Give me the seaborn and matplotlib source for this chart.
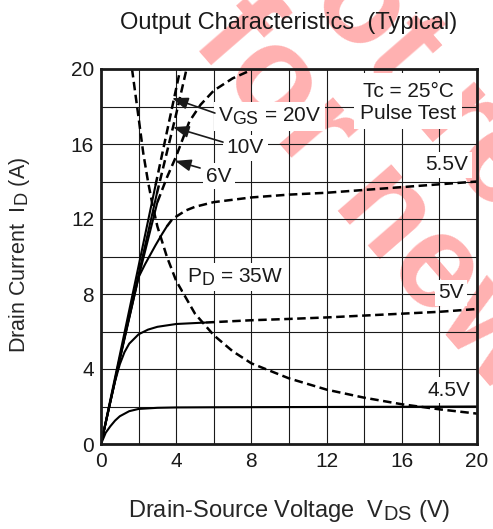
import numpy as np
import pandas as pd
import matplotlib
matplotlib.use("Agg")
import matplotlib.pyplot as plt
import matplotlib._mathtext as mathtext_internals
import seaborn as sns

# ---- data -------------------------------------------------------------
# Drain current vs. drain-source voltage for each gate voltage
vgs_labels = ["4.5V", "5V", "5.5V", "6V", "10V", "20V"]

vds_45 = [0, 0.25, 0.5, 0.75, 1, 1.5, 2, 3, 4, 6, 10, 14, 20]
id_45 = [0, 0.6, 0.95, 1.25, 1.48, 1.75, 1.87, 1.93, 1.95, 1.96, 1.97, 1.98, 2.0]

vds_50 = [0, 0.5, 0.75, 1, 1.25, 1.5, 2, 2.5, 3, 4, 5, 5.6, 6, 8, 10, 12, 14, 16, 18, 20]
id_50 = [0, 2.25, 3.35, 4.25, 4.9, 5.35, 5.85, 6.1, 6.25, 6.4, 6.45, 6.48, 6.5, 6.6,
         6.67, 6.75, 6.85, 6.95, 7.05, 7.2]

vds_55 = [0, 1, 2, 2.35, 2.9, 3.25, 3.5, 3.8, 4.5, 5, 6, 8, 10, 12, 14, 16, 18, 20]
id_55 = [0, 4.6, 8.9, 9.6, 10.6, 11.2, 11.6, 12.0, 12.45, 12.65, 12.9, 13.15, 13.3,
         13.4, 13.55, 13.7, 13.85, 14.0]

vds_60 = [0, 1, 2, 3, 3.5, 4, 4.7, 5.3, 6, 7, 8]
id_60 = [0, 4.5, 8.9, 12.9, 14.2, 15.35, 17.2, 18.1, 18.85, 19.5, 19.95]

vds_10 = [0, 1, 2, 2.97, 4, 4.55]
id_10 = [0, 4.55, 9.05, 13.35, 17.6, 20.0]

vds_20 = [0, 1, 2, 2.9, 4.22]
id_20 = [0, 4.75, 9.5, 13.8, 20.0]

# last measured (solid) voltage of each curve; beyond it the curve is dashed
solid_until = [20, 5.6, 3.5, 3.0, 2.97, 2.9]

# 35 W power-dissipation limit
pd_vds = [1.65, 2, 2.25, 2.5, 2.75, 3, 3.5, 4, 5, 6, 7, 8, 10, 12, 14, 16, 18, 20]
pd_id = [20, 17.4, 15.5, 14.0, 12.7, 11.6, 10.0, 8.7, 6.95, 5.8, 4.95, 4.3, 3.5, 2.9,
         2.47, 2.12, 1.85, 1.62]

x_ticks = [0, 4, 8, 12, 16, 20]
y_ticks = [0, 4, 8, 12, 16, 20]

# ---- style ------------------------------------------------------------
sns.set_theme(style="white")
plt.rcParams["font.family"] = ["Liberation Sans", "DejaVu Sans"]
plt.rcParams["mathtext.fontset"] = "custom"
plt.rcParams["mathtext.rm"] = "Liberation Sans"
plt.rcParams["mathtext.it"] = "Liberation Sans:italic"
plt.rcParams["mathtext.bf"] = "Liberation Sans:bold"
plt.rcParams["text.color"] = "#1a1a1a"
# larger subscripts, as in typical datasheet symbols (V_GS, I_D, ...)
mathtext_internals.SHRINK_FACTOR = 0.85

fig = plt.figure(figsize=(4.93, 5.29), dpi=100)
ax = fig.add_axes([101 / 493, 85 / 529, 376 / 493, 375 / 529])

dash = (0, (3.4, 1.8))

curves = [
    (vds_45, id_45), (vds_50, id_50), (vds_55, id_55),
    (vds_60, id_60), (vds_10, id_10), (vds_20, id_20),
]
for (vx, iy), cut in zip(curves, solid_until):
    df = pd.DataFrame({"vds": vx, "id": iy})
    solid = df[df.vds <= cut]
    dashed = df[df.vds >= cut]
    sns.lineplot(data=solid, x="vds", y="id", ax=ax, color="black", lw=1.5,
                 estimator=None, sort=False, zorder=2)
    if len(dashed) > 1:
        sns.lineplot(data=dashed, x="vds", y="id", ax=ax, color="black", lw=1.8,
                     linestyle=dash, estimator=None, sort=False, zorder=2)

sns.lineplot(x=pd_vds, y=pd_id, ax=ax, color="black", lw=1.8, linestyle=dash,
             estimator=None, sort=False, zorder=2)

# ---- axes -------------------------------------------------------------
ax.set_xlim(0, 20)
ax.set_ylim(0, 20)
ax.set_xticks(x_ticks)
ax.set_yticks(y_ticks)
ax.set_xticks(np.arange(0, 21, 2), minor=True)
ax.set_yticks(np.arange(0, 21, 2), minor=True)
ax.set_axisbelow(True)
ax.grid(which="both", color="#1a1a1a", lw=0.8)
ax.tick_params(which="both", length=0, labelsize=15, colors="#1a1a1a")
ax.tick_params(axis="x", pad=6)
ax.tick_params(axis="y", pad=5)
for sp in ax.spines.values():
    sp.set_visible(True)
    sp.set_color("#1a1a1a")
    sp.set_linewidth(2.0)

ax.set_title("Output Characteristics  (Typical)", fontsize=17, pad=29)
ax.set_xlabel(r"Drain-Source Voltage  $\mathregular{V_{DS}}$ (V)", fontsize=17)
ax.set_ylabel(r"Drain Current  $\mathregular{I_D}$ (A)", fontsize=15.5)
ax.xaxis.label.set_va("baseline")
ax.xaxis.set_label_coords(0.5, -0.195)
ax.yaxis.label.set_va("baseline")
ax.yaxis.set_label_coords(-0.202, 0.504)

# ---- annotations ------------------------------------------------------
box = dict(facecolor="white", edgecolor="none", pad=2.5)
fs = 15

ax.text(6.22, 17.19, r"$\mathregular{V_{GS}}$ = 20V", fontsize=fs, ha="left",
        va="baseline", bbox=box, zorder=3)
ax.text(6.69, 15.5, "10V", fontsize=fs, ha="left", va="baseline", bbox=box, zorder=3)
ax.text(5.59, 13.99, "6V", fontsize=fs, ha="left", va="baseline", bbox=box, zorder=3)
ax.text(16.33, 18.52, "Tc = 25°C", fontsize=fs, ha="center", va="baseline",
        bbox=dict(facecolor="white", edgecolor="none", pad=6), zorder=3)
ax.text(16.33, 17.32, "Pulse Test", fontsize=fs, ha="center", va="baseline",
        bbox=dict(facecolor="white", edgecolor="none", pad=4), zorder=3)
ax.text(19.52, 14.61, "5.5V", fontsize=fs, ha="right", va="baseline", bbox=box, zorder=3)
ax.text(19.3, 7.77, "5V", fontsize=fs, ha="right", va="baseline", bbox=box, zorder=3)
ax.text(19.63, 2.58, "4.5V", fontsize=fs, ha="right", va="baseline", bbox=box, zorder=3)
ax.text(4.56, 8.62, r"$\mathregular{P_D}$ = 35W", fontsize=fs, ha="left",
        va="baseline", bbox=box, zorder=3)

arrow = dict(arrowstyle="-|>,head_length=0.8,head_width=0.3", color="#1a1a1a",
             lw=1.2, shrinkA=0, shrinkB=0)
for tail, tip in [((6.06, 17.65), (3.78, 18.45)),
                  ((6.49, 16.1), (3.83, 16.9)),
                  ((5.27, 14.72), (3.94, 15.1))]:
    ax.annotate("", xy=tip, xytext=tail, arrowprops=arrow, zorder=4)

# ---- watermark --------------------------------------------------------
wm = dict(fontsize=96, fontweight="bold", color="red", alpha=0.31, rotation=-49,
          rotation_mode="anchor", ha="left", va="baseline", clip_on=False, zorder=0.2)
ax.text(4.72, 21.45, "for new designs", **wm)
ax.text(7.59, 27.7, "Not recommended", **wm)

fig.savefig("out.png", dpi=100, facecolor="white")
